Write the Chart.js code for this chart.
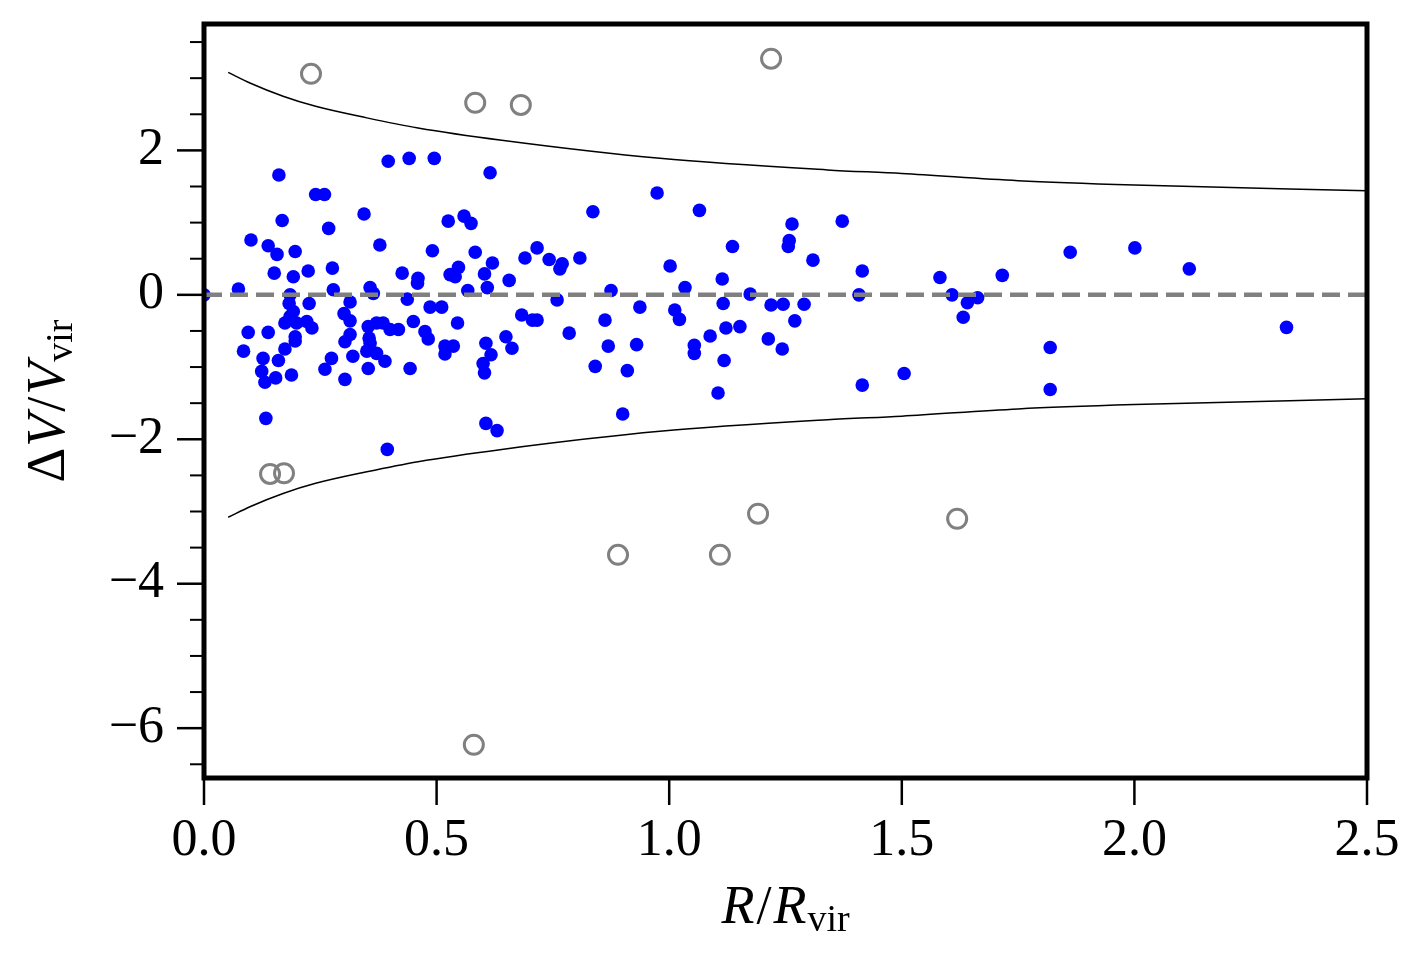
<!DOCTYPE html>
<html>
<head>
<meta charset="utf-8">
<script src="https://cdn.jsdelivr.net/npm/chart.js@4"></script>
<style>
  html, body { margin: 0; padding: 0; background: #fff; }
  #wrap { width: 1426px; height: 963px; }
</style>
</head>
<body>
<div id="wrap"><canvas id="graph" width="1426" height="963"></canvas></div>
<script>
// members inside the envelope (R/Rvir, dV/Vvir)
const memberR = [0.0, 0.074, 0.101, 0.138, 0.157, 0.161, 0.168, 0.151, 0.196, 0.192,
  0.224, 0.240, 0.259, 0.268, 0.276, 0.278, 0.344, 0.357, 0.364, 0.378,
  0.396, 0.426, 0.437, 0.441, 0.460, 0.459, 0.491, 0.495, 0.185, 0.183,
  0.192, 0.185, 0.226, 0.314, 0.301, 0.314, 0.174, 0.199, 0.221, 0.232,
  0.353, 0.371, 0.385, 0.400, 0.418, 0.450, 0.486, 0.511, 0.095, 0.138,
  0.196, 0.196, 0.314, 0.303, 0.355, 0.357, 0.475, 0.482, 0.085, 0.174,
  0.127, 0.160, 0.350, 0.371, 0.389, 0.320, 0.274, 0.260, 0.353, 0.443,
  0.124, 0.131, 0.154, 0.188, 0.303, 0.133, 0.394,
  0.615, 0.525, 0.559, 0.574, 0.836, 0.583, 0.620, 0.716, 0.690, 0.742,
  0.770, 0.765, 0.808, 0.547, 0.529, 0.540, 0.603, 0.656, 0.567, 0.609,
  0.875, 0.759, 0.683, 0.937, 0.545, 0.706, 0.716, 0.785, 0.862, 0.518,
  0.536, 0.518, 0.606, 0.617, 0.600, 0.603, 0.649, 0.662, 0.869, 0.930,
  0.841, 0.910, 0.606, 0.630, 0.900,
  0.974, 1.065, 1.264, 1.372, 1.258, 1.256, 1.136, 1.002, 1.309, 1.415,
  1.114, 1.034, 1.174, 1.408, 1.012, 1.022, 1.116, 1.219, 1.245, 1.290,
  1.270, 1.122, 1.152, 1.088, 1.054, 1.054, 1.213, 1.243, 1.118, 1.105,
  1.415, 1.505,
  1.862, 2.001, 1.582, 1.716, 1.608, 1.641, 1.663, 1.632, 1.819, 1.819,
  2.118, 2.327];
const memberV = [0.00, 0.08, 0.76, 0.68, 0.56, 1.66, 1.03, 0.30, 0.60, 0.25,
  0.33, 1.39, 1.39, 0.92, 0.37, 0.07, 1.12, 0.10, 0.02, 0.69,
  1.85, 0.30, -0.06, 1.89, 0.23, 0.16, 0.61, 1.89, 0.00, -0.12,
  -0.23, -0.30, -0.12, -0.10, -0.26, -0.36, -0.39, -0.39, -0.37, -0.46,
  -0.44, -0.39, -0.39, -0.48, -0.48, -0.37, -0.17, -0.17, -0.52, -0.52,
  -0.58, -0.64, -0.55, -0.65, -0.60, -0.67, -0.51, -0.61, -0.78, -0.75,
  -0.88, -0.91, -0.78, -0.81, -0.92, -0.85, -0.88, -1.03, -1.02, -1.02,
  -1.06, -1.21, -1.15, -1.11, -1.17, -1.71, -2.14,
  1.69, 1.02, 1.09, 0.99, 1.15, 0.59, 0.44, 0.65, 0.51, 0.49,
  0.43, 0.36, 0.51, 0.38, 0.28, 0.25, 0.29, 0.20, 0.06, 0.10,
  0.06, -0.07, -0.28, -0.17, -0.39, -0.35, -0.35, -0.53, -0.35, -0.71,
  -0.71, -0.82, -0.67, -0.83, -0.95, -1.08, -0.58, -0.74, -0.71, -0.69,
  -0.99, -1.05, -1.78, -1.88, -1.65,
  1.41, 1.17, 0.98, 1.02, 0.75, 0.67, 0.67, 0.40, 0.48, 0.33,
  0.22, 0.10, 0.01, 0.00, -0.21, -0.34, -0.12, -0.14, -0.13, -0.13,
  -0.36, -0.46, -0.44, -0.57, -0.70, -0.81, -0.61, -0.75, -0.91, -1.36,
  -1.25, -1.09,
  0.59, 0.65, 0.24, 0.27, 0.00, -0.11, -0.04, -0.31, -0.73, -1.31,
  0.36, -0.45];

// interlopers outside the envelope
const outlierR = [0.230, 0.583, 0.681, 1.219, 0.142, 0.172, 0.890, 1.109, 1.191, 1.619, 0.580];
const outlierV = [3.06, 2.66, 2.63, 3.27, -2.48, -2.47, -3.60, -3.60, -3.03, -3.10, -6.23];

// escape-velocity envelope
const envR = [0.052, 0.10, 0.17, 0.24, 0.35, 0.46, 0.64, 0.98, 1.34, 1.50, 1.75, 2.00, 2.50];
const envUpper = [3.08, 2.93, 2.75, 2.61, 2.45, 2.31, 2.14, 1.89, 1.73, 1.68, 1.58, 1.52, 1.44];
const envLower = [-3.08, -2.93, -2.75, -2.61, -2.45, -2.31, -2.14, -1.89, -1.73, -1.68, -1.58, -1.52, -1.44];

const zeroR = [0, 2.5];
const zeroV = [0, 0];

const xTicks = [0, 0.5, 1.0, 1.5, 2.0, 2.5];
const yTickLabels = [-6, -4, -2, 0, 2];

const pts = (xs, ys) => xs.map((x, i) => ({ x: x, y: ys[i] }));

const serif = "'Liberation Serif', 'DejaVu Serif', serif";

// draws a run of text pieces (math-ish label)
function drawPieces(ctx, pieces, cx, cy) {
  let total = 0;
  pieces.forEach(p => {
    ctx.font = p.font;
    p.w = ctx.measureText(p.t).width;
    total += p.w + (p.gap || 0);
  });
  let x = cx - total / 2;
  ctx.textBaseline = 'alphabetic';
  ctx.textAlign = 'left';
  pieces.forEach(p => {
    ctx.font = p.font;
    ctx.fillText(p.t, x, cy + (p.dy || 0));
    x += p.w + (p.gap || 0);
  });
}

// no extra room for overhanging labels, chart area is fixed by hand
function fixPad(s) {
  s.paddingTop = 0;
  s.paddingBottom = 0;
  s.paddingLeft = 0;
  s.paddingRight = 0;
}

const framePlugin = {
  id: 'frame',
  afterDraw(chart) {
    const ctx = chart.ctx;
    const a = chart.chartArea;
    ctx.save();
    ctx.strokeStyle = '#000';
    ctx.fillStyle = '#000';

    // tick marks
    ctx.lineWidth = 2.5;
    const xs = chart.scales.x;
    xs.ticks.forEach(t => {
      const px = xs.getPixelForValue(t.value);
      ctx.beginPath();
      ctx.moveTo(px, a.bottom);
      ctx.lineTo(px, a.bottom + 27);
      ctx.stroke();
    });
    const ys = chart.scales.y;
    ys.ticks.forEach(t => {
      const py = ys.getPixelForValue(t.value);
      const major = Math.abs(t.value % 2) < 1e-6;
      ctx.lineWidth = major ? 2.5 : 2;
      ctx.beginPath();
      ctx.moveTo(a.left, py);
      ctx.lineTo(a.left - (major ? 27 : 14), py);
      ctx.stroke();
    });

    // box
    ctx.lineWidth = 5;
    ctx.strokeRect(a.left, a.top, a.right - a.left, a.bottom - a.top);

    // axis titles
    const big = "54px " + serif;
    const bigI = "italic 54px " + serif;
    const sub = "38px " + serif;
    drawPieces(ctx, [
      { t: 'R', font: bigI, gap: 2 },
      { t: '/', font: big, gap: 2 },
      { t: 'R', font: bigI, gap: 1 },
      { t: 'vir', font: sub, dy: 8 }
    ], (a.left + a.right) / 2, 923);

    ctx.translate(64, (a.top + a.bottom) / 2);
    ctx.rotate(-Math.PI / 2);
    drawPieces(ctx, [
      { t: 'Δ', font: big, gap: 1 },
      { t: 'V', font: bigI, gap: 2 },
      { t: '/', font: big, gap: 2 },
      { t: 'V', font: bigI, gap: 0 },
      { t: 'vir', font: sub, dy: 8 }
    ], 0, 0);
    ctx.restore();
  }
};

const config = {
  type: 'scatter',
  data: {
    datasets: [
      {
        label: 'zero',
        type: 'line',
        data: pts(zeroR, zeroV),
        borderColor: '#808080',
        borderWidth: 4.5,
        borderDash: [18, 8],
        pointRadius: 0,
        fill: false
      },
      {
        label: 'members',
        data: pts(memberR, memberV),
        backgroundColor: '#0000ff',
        borderColor: '#0000ff',
        borderWidth: 0,
        pointRadius: 6.8
      },
      {
        label: 'interlopers',
        data: pts(outlierR, outlierV),
        backgroundColor: 'rgba(0,0,0,0)',
        borderColor: '#808080',
        borderWidth: 3,
        pointRadius: 9.5
      },
      {
        label: 'upper',
        type: 'line',
        data: pts(envR, envUpper),
        borderColor: '#000',
        borderWidth: 1.5,
        pointRadius: 0,
        cubicInterpolationMode: 'monotone',
        fill: false
      },
      {
        label: 'lower',
        type: 'line',
        data: pts(envR, envLower),
        borderColor: '#000',
        borderWidth: 1.5,
        pointRadius: 0,
        cubicInterpolationMode: 'monotone',
        fill: false
      }
    ]
  },
  options: {
    responsive: false,
    animation: false,
    events: [],
    layout: { padding: { left: 0, top: 24, right: 59, bottom: 0 } },
    plugins: {
      legend: { display: false },
      tooltip: { enabled: false }
    },
    scales: {
      x: {
        type: 'linear',
        min: 0,
        max: 2.5,
        afterFit: s => { s.height = 185; fixPad(s); },
        afterBuildTicks: s => { s.ticks = xTicks.map(v => ({ value: v })); },
        grid: { display: false, drawTicks: false },
        border: { display: false },
        ticks: {
          padding: 32,
          color: '#000',
          font: { family: serif, size: 52 },
          maxRotation: 0,
          callback: v => v.toFixed(1)
        }
      },
      y: {
        type: 'linear',
        min: -6.69,
        max: 3.75,
        afterFit: s => { s.width = 204; fixPad(s); },
        grid: { display: false, drawTicks: false },
        border: { display: false },
        ticks: {
          stepSize: 0.5,
          includeBounds: false,
          autoSkip: false,
          padding: 40,
          color: '#000',
          font: { family: serif, size: 52 },
          callback: v => yTickLabels.includes(v) ? (v < 0 ? '\u2212' + Math.abs(v) : String(v)) : ''
        }
      }
    }
  },
  plugins: [framePlugin]
};

const graph = new Chart(document.getElementById('graph'), config);
</script>
</body>
</html>
